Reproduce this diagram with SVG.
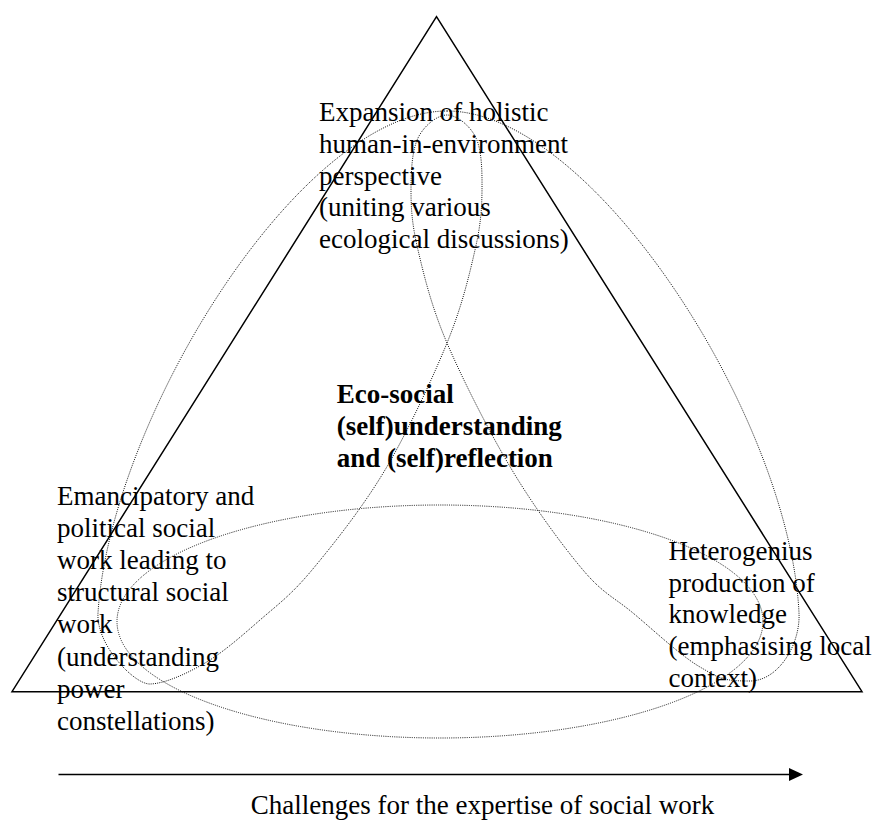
<svg xmlns="http://www.w3.org/2000/svg" width="874" height="823" viewBox="0 0 874 823">
  <style>
    .t { font-family: "Liberation Serif", "Times New Roman", serif; font-size: 27px; fill: #000; }
    .b { font-weight: bold; }
    .solid { fill: none; stroke: #000; stroke-width: 1.5; }
    .dot { fill: none; stroke: #111; stroke-width: 1; stroke-dasharray: 1 1.2; }
  </style>
  <rect width="874" height="823" fill="#fff"/>
  <g id="shapes">
    <polygon id="triangle" class="solid" points="436.5,16.7 862,691.7 12,691.7"/>
    <ellipse id="loop-ellipse" class="dot" cx="440" cy="621.5" rx="323" ry="116.5"/>
    <path id="loop-trefoil" class="dot" d="M 447,111 C 594,111 790,420 799,613 C 800.5,645 778,681 750,681 S 719.5,678.33 700,667 S 652.5,629.17 633,613 S 603.17,593.83 583,570 S 534.67,507.83 512,470 S 462.67,379.67 447,343 S 424,275.5 418,250 S 411,208.67 411,190 S 412,150.5 418,138 S 437.33,115 447,115 S 470.17,125.5 476,138 S 482.17,171.33 482,190 S 480.83,224.5 475,250 S 462,306.33 447,343 S 407.5,432.17 385,470 S 332.83,545 312,570 S 277.83,604.5 260,620 S 223.33,652.33 205,663 S 165.5,683.5 150,684 S 96,645 98,613 C 110,420 300,111 447,111 Z"/>
  </g>
  <g id="connectors">
    <line x1="58.5" y1="774.5" x2="790" y2="774.5" stroke="#000" stroke-width="1.6"/>
    <polygon points="803,774.5 789,768 789,781" fill="#000"/>
  </g>
  <g id="node-top">
    <text class="t" x="319" y="121">Expansion of holistic</text>
    <text class="t" x="319" y="152.8">human-in-environment</text>
    <text class="t" x="319" y="184.6">perspective</text>
    <text class="t" x="319" y="216.4">(uniting various</text>
    <text class="t" x="319" y="248.2">ecological discussions)</text>
  </g>
  <g id="node-center">
    <text class="t b" x="336.7" y="403">Eco-social</text>
    <text class="t b" x="336.7" y="435">(self)understanding</text>
    <text class="t b" x="336.7" y="467">and (self)reflection</text>
  </g>
  <g id="node-left">
    <text class="t" x="57" y="505">Emancipatory and</text>
    <text class="t" x="57" y="537">political social</text>
    <text class="t" x="57" y="569">work leading to</text>
    <text class="t" x="57" y="601">structural social</text>
    <text class="t" x="57" y="633">work</text>
    <text class="t" x="57" y="665.5">(understanding</text>
    <text class="t" x="57" y="697.5">power</text>
    <text class="t" x="57" y="729.5">constellations)</text>
  </g>
  <g id="node-right">
    <text class="t" x="668.5" y="560">Heterogenius</text>
    <text class="t" x="668.5" y="591.7">production of</text>
    <text class="t" x="668.5" y="623.4">knowledge</text>
    <text class="t" x="668.5" y="655.1">(emphasising local</text>
    <text class="t" x="668.5" y="686.8">context)</text>
  </g>
  <g id="caption">
    <text class="t" x="482.5" y="814" text-anchor="middle">Challenges for the expertise of social work</text>
  </g>
</svg>
